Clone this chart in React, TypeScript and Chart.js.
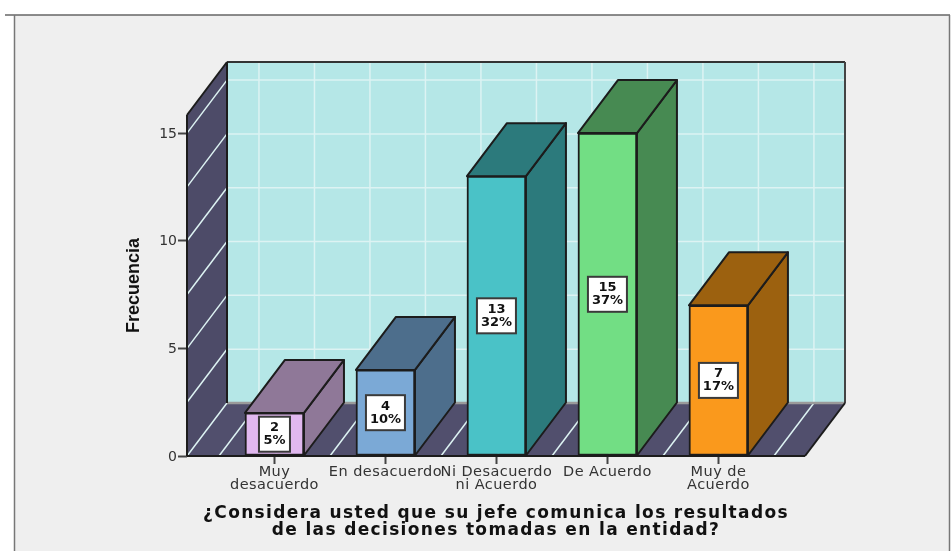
import React, { useEffect, useRef } from "react";
import { Chart, registerables } from "chart.js";

Chart.register(...registerables);

const categories = [
  ["Muy", "desacuerdo"],
  ["En desacuerdo"],
  ["Ni Desacuerdo", "ni Acuerdo"],
  ["De Acuerdo"],
  ["Muy de", "Acuerdo"],
];
const frequencies = [2, 4, 13, 15, 7];
const percents = ["5%", "10%", "32%", "37%", "17%"];
const frontColors = ["#E1B8EF", "#7BA9D6", "#4AC2C7", "#72DE84", "#FA991C"];
const sideColors = ["#8F7898", "#4D6E8C", "#2C7A7C", "#478A52", "#9C610F"];
const yTicks = [0, 5, 10, 15];
const gridYValues = [0, 2.5, 5, 7.5, 10, 12.5, 15];
const gridXValues = [-0.5, 0, 0.5, 1, 1.5, 2, 2.5, 3, 3.5, 4, 4.5];
const xAxisTitle = [
  "¿Considera usted que su jefe comunica los resultados",
  "de las decisiones tomadas en la entidad?",
];
const yAxisTitle = "Frecuencia";

const DX = 40;
const DY = -53;
const EDGE = "#1c1c1c";

function poly(ctx: CanvasRenderingContext2D, pts: number[][], fill?: string, stroke?: string, lw = 2) {
  ctx.beginPath();
  pts.forEach((p, i) => (i ? ctx.lineTo(p[0], p[1]) : ctx.moveTo(p[0], p[1])));
  ctx.closePath();
  if (fill) {
    ctx.fillStyle = fill;
    ctx.fill();
  }
  if (stroke) {
    ctx.strokeStyle = stroke;
    ctx.lineWidth = lw;
    ctx.lineJoin = "round";
    ctx.stroke();
  }
}

function seg(ctx: CanvasRenderingContext2D, x1: number, y1: number, x2: number, y2: number, color: string, lw: number) {
  ctx.beginPath();
  ctx.moveTo(x1, y1);
  ctx.lineTo(x2, y2);
  ctx.strokeStyle = color;
  ctx.lineWidth = lw;
  ctx.stroke();
}

function spaced(scale: any, method: string, spacing: string) {
  const original = scale[method];
  scale[method] = function (...args: any[]) {
    const c = this.ctx;
    c.letterSpacing = spacing;
    original.apply(this, args);
    c.letterSpacing = "0px";
  };
}

const scenePlugin = {
  id: "scene3d",
  afterInit(chart: any) {
    chart.$spaced = false;
  },
  beforeDraw(chart: any) {
    const { ctx, width, height, scales } = chart;
    if (!chart.$spaced) {
      chart.$spaced = true;
      spaced(scales.x, "drawLabels", "0.45px");
      spaced(scales.x, "drawTitle", "1.35px");
    }
    ctx.save();
    ctx.fillStyle = "#FFFFFF";
    ctx.fillRect(0, 0, width, height);
    ctx.fillStyle = "#EFEFEF";
    ctx.fillRect(14, 15, 935, height - 15);
    seg(ctx, 5, 15, 950, 15, "#666666", 1.5);
    seg(ctx, 14.5, 15, 14.5, height, "#777777", 1.5);
    seg(ctx, 949.5, 15, 949.5, height, "#777777", 1.5);
    ctx.restore();
  },
  beforeDatasetsDraw(chart: any) {
    const { ctx, chartArea: a, scales } = chart;
    const { x, y } = scales;
    const { left: L, right: R, top: T, bottom: B } = a;
    ctx.save();
    // back wall
    poly(ctx, [[L + DX, T + DY], [R + DX, T + DY], [R + DX, B + DY], [L + DX, B + DY]], "#B5E7E7");
    // side wall and floor
    poly(ctx, [[L, T], [L + DX, T + DY], [L + DX, B + DY], [L, B]], "#4D4B68");
    poly(ctx, [[L, B], [R, B], [R + DX, B + DY], [L + DX, B + DY]], "#514F6D");
    const grid = "#DDF3F3";
    gridYValues.forEach((v) => {
      const py = y.getPixelForValue(v);
      if (v > 0) seg(ctx, L + DX, py + DY, R + DX, py + DY, grid, 1.5);
      seg(ctx, L, py, L + DX, py + DY, grid, 1.5);
    });
    gridXValues.forEach((v) => {
      const px = x.getPixelForValue(v);
      seg(ctx, px + DX, T + DY, px + DX, B + DY, grid, 1.5);
      seg(ctx, px, B, px + DX, B + DY, grid, 1.5);
    });
    // frame edges
    seg(ctx, L + DX, B + DY, R + DX, B + DY, "#9A9A9A", 2.5);
    seg(ctx, L + DX, T + DY, R + DX, T + DY, "#333333", 2);
    seg(ctx, R + DX, T + DY, R + DX, B + DY, "#444444", 2);
    seg(ctx, L + DX, T + DY, L + DX, B + DY, EDGE, 2);
    seg(ctx, L, T, L + DX, T + DY, EDGE, 2);
    seg(ctx, L, T, L, B, EDGE, 2);
    seg(ctx, L, B, R, B, EDGE, 2);
    seg(ctx, R, B, R + DX, B + DY, EDGE, 2);
    // bar sides and tops
    chart.getDatasetMeta(0).data.forEach((bar: any, i: number) => {
      const r = bar.x + bar.width / 2;
      const l = bar.x - bar.width / 2;
      poly(ctx, [[r, bar.y], [r + DX, bar.y + DY], [r + DX, bar.base + DY], [r, bar.base]], sideColors[i], EDGE);
      poly(ctx, [[l, bar.y], [l + DX, bar.y + DY], [r + DX, bar.y + DY], [r, bar.y]], sideColors[i], EDGE);
    });
    ctx.restore();
  },
  afterDatasetsDraw(chart: any) {
    const { ctx } = chart;
    ctx.save();
    chart.getDatasetMeta(0).data.forEach((bar: any, i: number) => {
      const w = percents[i].length > 2 ? 39 : 31;
      const h = 35;
      const cy = (bar.y + bar.base) / 2;
      ctx.fillStyle = "#FFFFFF";
      ctx.strokeStyle = "#3A3A3A";
      ctx.lineWidth = 2;
      ctx.fillRect(bar.x - w / 2, cy - h / 2, w, h);
      ctx.strokeRect(bar.x - w / 2, cy - h / 2, w, h);
      ctx.fillStyle = "#111111";
      ctx.font = "bold 13px 'DejaVu Sans'";
      ctx.textAlign = "center";
      ctx.textBaseline = "middle";
      ctx.fillText(String(frequencies[i]), bar.x, cy - 6.5);
      ctx.fillText(percents[i], bar.x, cy + 6.5);
    });
    ctx.restore();
  },
};

export default function App() {
  const ref = useRef<HTMLCanvasElement>(null);
  useEffect(() => {
    const chart = new Chart(ref.current as HTMLCanvasElement, {
      type: "bar",
      data: {
        datasets: [
          {
            data: frequencies.map((v, i) => ({ x: i, y: v })),
            backgroundColor: frontColors,
            borderColor: EDGE,
            borderWidth: 2,
            borderSkipped: false,
            barThickness: 59,
          },
        ],
      },
      options: {
        responsive: false,
        animation: false,
        layout: { padding: { top: 115, right: 146, left: 0, bottom: 0 } },
        plugins: { legend: { display: false }, tooltip: { enabled: false } },
        scales: {
          x: {
            type: "linear",
            offset: false,
            min: -0.788,
            max: 4.78,
            afterFit: (s: any) => {
              s.height = 95;
            },
            afterBuildTicks: (s: any) => {
              s.ticks = categories.map((_, i) => ({ value: i }));
            },
            border: { display: false },
            grid: { offset: false, drawOnChartArea: false, drawTicks: true, tickLength: 8, tickColor: "#444444", tickWidth: 2 },
            ticks: {
              autoSkip: false,
              maxRotation: 0,
              minRotation: 0,
              padding: 2,
              color: "#333333",
              font: { family: "'DejaVu Sans'", size: 14.5, lineHeight: 0.88 },
              callback: (v: any) => categories[v],
            },
            title: {
              display: true,
              text: xAxisTitle,
              color: "#111111",
              font: { family: "'DejaVu Sans'", weight: "bold", size: 17, lineHeight: 1.05 },
              padding: { top: 0, bottom: 11 },
            },
          },
          y: {
            type: "linear",
            min: 0,
            max: 15.84,
            afterFit: (s: any) => {
              s.width = 187;
            },
            afterBuildTicks: (s: any) => {
              s.ticks = yTicks.map((v) => ({ value: v }));
            },
            border: { display: false },
            grid: { drawOnChartArea: false, drawTicks: true, tickLength: 9, tickColor: "#444444", tickWidth: 2 },
            ticks: {
              padding: 1,
              labelOffset: 1,
              color: "#333333",
              font: { family: "'DejaVu Sans'", size: 14 },
            },
            title: {
              display: true,
              text: yAxisTitle,
              color: "#111111",
              font: { family: "'Liberation Sans Narrow', 'Liberation Sans'", weight: "bold", size: 18, lineHeight: 1.1 },
              padding: { top: 124, bottom: 0 },
            },
          },
        },
      },
      plugins: [scenePlugin],
    } as any);
    return () => chart.destroy();
  }, []);
  return (
    <div style={{ position: "fixed", left: 0, top: 0, width: 951, height: 551 }}>
      <canvas ref={ref} width={951} height={551} style={{ display: "block" }} />
    </div>
  );
}
